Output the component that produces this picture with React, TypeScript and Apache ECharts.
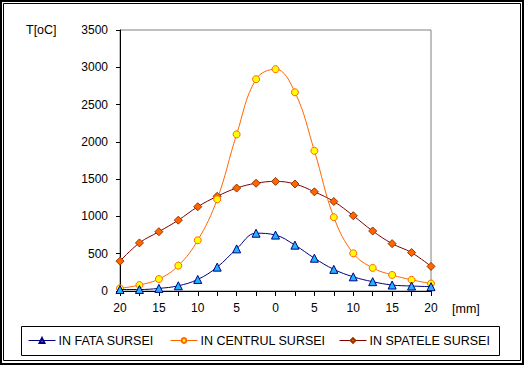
import React, { useEffect, useRef } from "react";
import * as echarts from "echarts";

const categories = ["20", "17.5", "15", "12.5", "10", "7.5", "5", "2.5", "0", "2.5", "5", "7.5", "10", "12.5", "15", "17.5", "20"];
const inFata = [20, 20, 35, 70, 155, 320, 565, 775, 750, 615, 440, 290, 190, 125, 80, 67, 58];
const inCentrul = [35, 80, 160, 340, 680, 1230, 2100, 2840, 2975, 2665, 1880, 990, 505, 310, 215, 150, 100];
const inSpatele = [400, 645, 795, 950, 1130, 1270, 1380, 1445, 1470, 1435, 1330, 1200, 1010, 805, 635, 515, 330];
const seriesNames = ["IN FATA SURSEI", "IN CENTRUL SURSEI", "IN SPATELE SURSEI"];

const FONT = "'Liberation Sans', Arial, sans-serif";

export default function App() {
  const ref = useRef<HTMLDivElement>(null);
  useEffect(() => {
    if (!ref.current) return;
    const chart = echarts.init(ref.current, undefined, { renderer: "svg" });
    const legendItem = (i: number, left: number) => ({
      data: [seriesNames[i]],
      left,
      top: 334,
      padding: 0,
      itemWidth: 27,
      itemHeight: 6,
      itemGap: 0,
      lineStyle: { width: 1 },
      textStyle: { fontSize: 12.5, fontFamily: FONT, color: "#000", padding: [0, 0, 0, -2] },
    });
    chart.setOption({
      animation: false,
      backgroundColor: "#fff",
      textStyle: { fontFamily: FONT },
      grid: { left: 120, right: 93, top: 30, bottom: 74, show: true, borderColor: "#808080", borderWidth: 1, backgroundColor: "#fff" },
      legend: [legendItem(0, 28), legendItem(1, 170), legendItem(2, 339)],
      xAxis: {
        type: "category",
        data: categories,
        boundaryGap: false,
        axisLine: { lineStyle: { color: "#000", width: 1 } },
        axisTick: { show: true, interval: 0, length: 5, lineStyle: { color: "#000" } },
        axisLabel: { interval: 1, fontSize: 12, color: "#000", fontFamily: FONT, margin: 11 },
        splitLine: { show: false },
      },
      yAxis: {
        type: "value",
        min: 0,
        max: 3500,
        interval: 500,
        axisLine: { show: true, lineStyle: { color: "#000", width: 1 } },
        axisTick: { show: true, length: 4, lineStyle: { color: "#000" } },
        axisLabel: { fontSize: 12, color: "#000", fontFamily: FONT, margin: 12, formatter: (v: number) => String(v) },
        splitLine: { show: false },
      },
      series: [
        {
          name: seriesNames[0],
          type: "line",
          data: inFata,
          smooth: 0.4,
          symbol: "triangle",
          symbolSize: 8,
          lineStyle: { color: "#000080", width: 1 },
          itemStyle: { color: "#1EB4FF", borderColor: "#000080", borderWidth: 1 },
          z: 3,
        },
        {
          name: seriesNames[1],
          type: "line",
          data: inCentrul,
          smooth: 0.4,
          symbol: "circle",
          symbolSize: 7,
          lineStyle: { color: "#FF6600", width: 1 },
          itemStyle: { color: "#FFFF00", borderColor: "#FF6600", borderWidth: 1 },
          z: 2,
        },
        {
          name: seriesNames[2],
          type: "line",
          data: inSpatele,
          smooth: 0.4,
          symbol: "diamond",
          symbolSize: 8,
          lineStyle: { color: "#800000", width: 1 },
          itemStyle: { color: "#FF6600", borderColor: "#993300", borderWidth: 1 },
          z: 1,
        },
      ],
      graphic: [
        { type: "rect", shape: { x: 1, y: 1, width: 522, height: 363 }, style: { fill: "none", stroke: "#000", lineWidth: 2 }, silent: true },
        { type: "rect", shape: { x: 3.5, y: 3.5, width: 517, height: 357 }, style: { fill: "none", stroke: "#000", lineWidth: 1 }, silent: true },
        { type: "rect", shape: { x: 21.5, y: 326.5, width: 478, height: 29 }, style: { fill: "none", stroke: "#000", lineWidth: 1 }, silent: true },
        { type: "text", left: 26, top: 23, style: { text: "T[oC]", fontSize: 12.5, fontFamily: FONT, fill: "#000" } },
        { type: "text", left: 452, top: 302, style: { text: "[mm]", fontSize: 12.5, fontFamily: FONT, fill: "#000" } },
      ],
    });
    return () => chart.dispose();
  }, []);
  return (
    <div style={{ position: "absolute", left: 0, top: 0, width: 524, height: 365 }}>
      <div ref={ref} style={{ width: 524, height: 365 }} />
    </div>
  );
}
